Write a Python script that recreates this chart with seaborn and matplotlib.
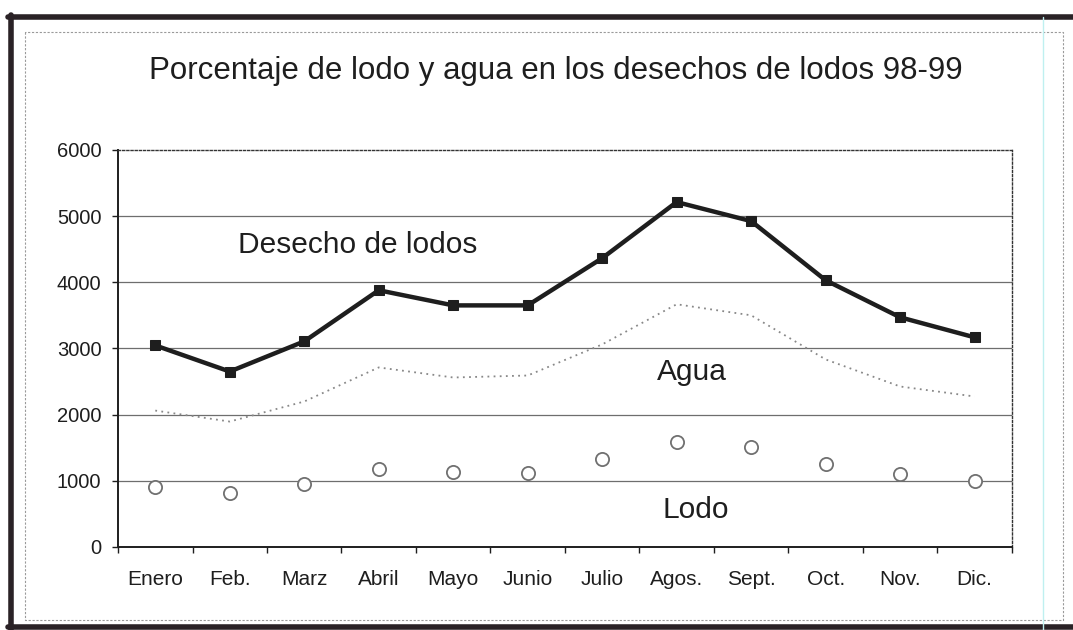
import numpy as np
import pandas as pd
import matplotlib
matplotlib.use("Agg")
import matplotlib.pyplot as plt
from matplotlib.lines import Line2D
import seaborn as sns

# Monthly data, 1998-99
meses = ["Enero", "Feb.", "Marz", "Abril", "Mayo", "Junio", "Julio",
         "Agos.", "Sept.", "Oct.", "Nov.", "Dic."]
desecho = [3045, 2650, 3106, 3879, 3650, 3650, 4364, 5212, 4924, 4030, 3470, 3167]
agua = [2060, 1894, 2197, 2712, 2560, 2590, 3060, 3667, 3500, 2833, 2424, 2273]
lodo = [909, 818, 955, 1182, 1136, 1121, 1333, 1591, 1515, 1258, 1106, 1000]
y_ticks = [0, 1000, 2000, 3000, 4000, 5000, 6000]

df = pd.DataFrame({"mes": meses, "desecho": desecho, "agua": agua, "lodo": lodo})

sns.set_style("white")
plt.rcParams["font.family"] = ["Liberation Sans", "DejaVu Sans"]

fig = plt.figure(figsize=(10.73, 6.30), dpi=100)
ax = fig.add_axes([0.110, 0.132, 0.833, 0.630])

ink = "#1e1e1e"

# Series
sns.lineplot(data=df, x="mes", y="agua", sort=False, ax=ax, color="#888888",
             linewidth=1.3, linestyle=(0, (1, 2.4)), zorder=3)
sns.lineplot(data=df, x="mes", y="lodo", sort=False, ax=ax, linestyle="",
             marker="o", markersize=9.5, markerfacecolor="white",
             markeredgecolor="#707070", markeredgewidth=1.3, zorder=4)
sns.lineplot(data=df, x="mes", y="desecho", sort=False, ax=ax, color=ink,
             linewidth=3.2, marker="s", markersize=7, markeredgecolor=ink,
             markerfacecolor=ink, zorder=5)

ax.set_xlim(-0.5, len(meses) - 0.5)
ax.set_ylim(y_ticks[0], y_ticks[-1])
ax.set_xlabel("")
ax.set_ylabel("")

# Horizontal gridlines between the bottom spine and the dotted top edge
for v in y_ticks[1:-1]:
    ax.axhline(v, color="#6e6e6e", linewidth=0.9, zorder=1)

# Axes frame
for side in ["left", "bottom"]:
    ax.spines[side].set_color(ink)
    ax.spines[side].set_linewidth(1.4)
for side in ["top", "right"]:
    ax.spines[side].set_visible(True)
    ax.spines[side].set_color("#333333")
    ax.spines[side].set_linewidth(1.0)
    ax.spines[side].set_linestyle((0, (1.5, 1.5)))

# Ticks
ax.set_yticks(y_ticks)
ax.set_yticklabels([str(v) for v in y_ticks])
ax.tick_params(axis="y", direction="out", length=4, width=1, color=ink,
               labelsize=14.5, labelcolor=ink, pad=8, left=True)
ax.set_xticks(np.arange(-0.5, len(meses), 1.0))
ax.set_xticklabels([])
ax.set_xticks(np.arange(len(meses)), minor=True)
ax.set_xticklabels(meses, minor=True)
ax.tick_params(axis="x", which="major", direction="out", length=4, width=1,
               color=ink, bottom=True)
ax.tick_params(axis="x", which="minor", length=0, labelsize=15,
               labelcolor=ink, pad=17)

# Series labels
ax.text(2.72, 4560, "Desecho de lodos", fontsize=21.5, color=ink,
        ha="center", va="center")
ax.text(7.21, 2640, "Agua", fontsize=21.5, color=ink, ha="center", va="center")
ax.text(7.26, 560, "Lodo", fontsize=21.5, color=ink, ha="center", va="center")

# Title
fig.text(0.518, 0.887, "Porcentaje de lodo y agua en los desechos de lodos 98-99",
         fontsize=22.5, color=ink, ha="center", va="center")

# Page frame: heavy outer border and thin inner rule
W, H = 1073, 630
def fx(px):
    return px / W
def fy(py):
    return 1 - py / H

fig.add_artist(Line2D([fx(8), 1.0], [fy(17), fy(17)], color="#2a2226",
                      linewidth=4, transform=fig.transFigure))
fig.add_artist(Line2D([fx(10.5), fx(10.5)], [fy(15), 0.0], color="#2a2226",
                      linewidth=4, transform=fig.transFigure))
fig.add_artist(Line2D([fx(8), 1.0], [fy(627), fy(627)], color="#2a2226",
                      linewidth=4, transform=fig.transFigure))
fig.add_artist(Line2D([fx(25), fx(25), fx(1063), fx(1063), fx(25)],
                      [fy(32), fy(620), fy(620), fy(32), fy(32)],
                      color="#9a9a9a", linewidth=0.8, linestyle=(0, (2, 1.5)),
                      transform=fig.transFigure))
fig.add_artist(Line2D([fx(1043), fx(1043)], [fy(17), 0.0], color="#bff0f0",
                      linewidth=1.0, transform=fig.transFigure))

fig.savefig("out.png", dpi=100, facecolor="white")
